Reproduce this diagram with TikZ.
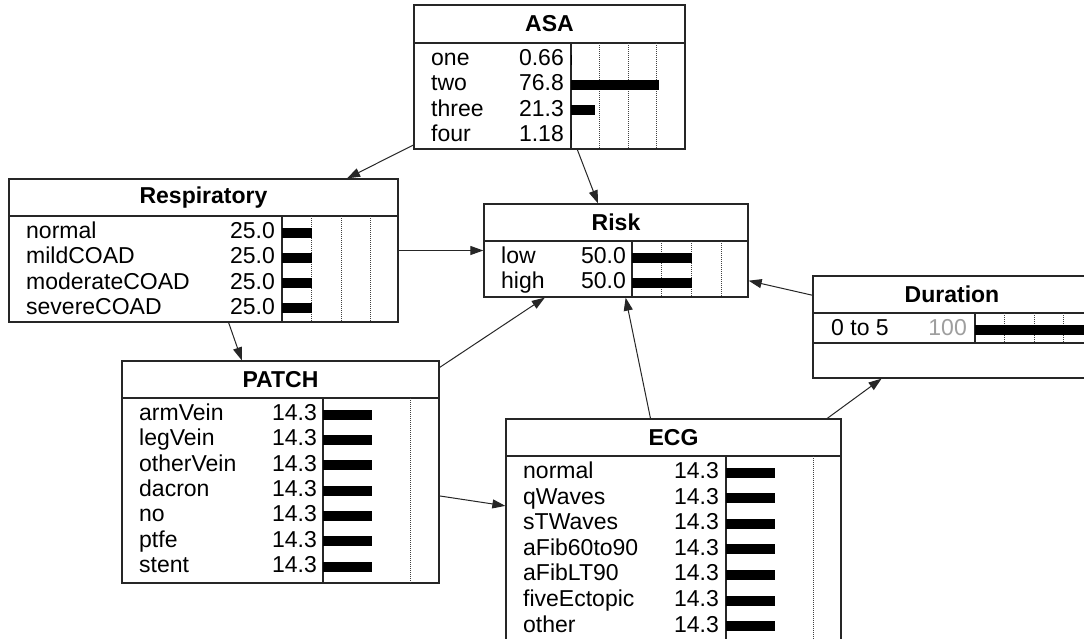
\documentclass[tikz,border=0pt]{standalone}
\usepackage{fontspec}
\setmainfont{Liberation Sans}
\usetikzlibrary{arrows.meta}

\tikzset{
  netbox/.style={draw=black!85, line width=1.3pt, fill=white, inner sep=0pt},
  divline/.style={black!85, line width=1.3pt},
  gridline/.style={black!75, line width=0.8pt, dash pattern=on 1pt off 1pt},
  titletext/.style={font=\fontsize{23}{27}\selectfont\bfseries, inner sep=0pt},
  rowtext/.style={font=\fontsize{23}{27}\selectfont, inner sep=0pt},
  beliefbar/.style={fill=black},
  link/.style={black!85, line width=1pt, -{Triangle[length=13pt,width=9pt]}}
}

\begin{document}
\begin{tikzpicture}[x=1pt, y=-1pt]

    \useasboundingbox (0,0) rectangle (1084,638);
    \fill[white] (0,0) rectangle (1084,638);
    \clip (0,0) rectangle (1084,638);

    % ── ASA ───────────────────────────────────────────────────────────────────
    \node[netbox, minimum width=271pt, minimum height=144pt] (asa) at (549.5,77) {};
    \node[titletext] (asa-t) at (549.5,24) {ASA};
    \draw[divline] (414,43) -- (685,43);
    \draw[divline] (571,43) -- (571,149);
    \foreach \p in {25,50,75}
        \draw[gridline] ({571+1.14*\p},43) -- ({571+1.14*\p},149);
    \foreach \st/\val [count=\i from 0] in {one/0.66, two/76.8, three/21.3, four/1.18} {
        \fill[beliefbar] (571,{54.5+25.3*\i}) rectangle ({571+1.14*\val},{64.5+25.3*\i});
        \node[rowtext, anchor=base west] (asa-s\i) at (431,{65.5+25.3*\i}) {\st};
        \node[rowtext, anchor=base east] (asa-v\i) at (564,{65.5+25.3*\i}) {\val};
    }

    % ── Respiratory ───────────────────────────────────────────────────────────
    \node[netbox, minimum width=389pt, minimum height=143pt] (resp) at (203.5,250.5) {};
    \node[titletext] (resp-t) at (203.5,197.5) {Respiratory};
    \draw[divline] (9,216) -- (398,216);
    \draw[divline] (282,216) -- (282,322);
    \foreach \p in {25,50,75}
        \draw[gridline] ({282+1.18*\p},216) -- ({282+1.18*\p},322);
    \foreach \st/\val [count=\i from 0] in {normal/25.0, mildCOAD/25.0,
                                           moderateCOAD/25.0, severeCOAD/25.0} {
        \fill[beliefbar] (282,{227.5+25.3*\i}) rectangle ({282+1.18*\val},{237.5+25.3*\i});
        \node[rowtext, anchor=base west] (resp-s\i) at (26,{238.5+25.3*\i}) {\st};
        \node[rowtext, anchor=base east] (resp-v\i) at (275,{238.5+25.3*\i}) {\val};
    }

    % ── Risk ──────────────────────────────────────────────────────────────────
    \node[netbox, minimum width=264pt, minimum height=93pt] (risk) at (616,250.5) {};
    \node[titletext] (risk-t) at (616,222.5) {Risk};
    \draw[divline] (484,241) -- (748,241);
    \draw[divline] (632,241) -- (632,297);
    \foreach \p in {25,50,75}
        \draw[gridline] ({632+1.19*\p},241) -- ({632+1.19*\p},297);
    \foreach \st/\val [count=\i from 0] in {low/50.0, high/50.0} {
        \fill[beliefbar] (632,{252.5+25.3*\i}) rectangle ({632+1.19*\val},{262.5+25.3*\i});
        \node[rowtext, anchor=base west] (risk-s\i) at (501,{263.5+25.3*\i}) {\st};
        \node[rowtext, anchor=base east] (risk-v\i) at (626,{263.5+25.3*\i}) {\val};
    }

    % ── Duration (runs past the right edge) ───────────────────────────────────
    \node[netbox, minimum width=278pt, minimum height=102pt] (dur) at (952,327) {};
    \node[titletext] (dur-t) at (952,294.5) {Duration};
    \draw[divline] (813,313) -- (1091,313);
    \draw[divline] (813,343) -- (1091,343);
    \draw[divline] (975,313) -- (975,343);
    \foreach \p in {25,50,75}
        \draw[gridline] ({975+1.18*\p},313) -- ({975+1.18*\p},343);
    \fill[beliefbar] (975,324.5) rectangle ({975+1.18*100},334.5);
    \node[rowtext, anchor=base west] (dur-s0) at (831,335.5) {0 to 5};
    \node[rowtext, anchor=base east, text=black!38] (dur-v0) at (967,335.5) {100};

    % ── PATCH ─────────────────────────────────────────────────────────────────
    \node[netbox, minimum width=317pt, minimum height=222pt] (patch) at (280.5,472) {};
    \node[titletext] (patch-t) at (280.5,379.5) {PATCH};
    \draw[divline] (122,398) -- (439,398);
    \draw[divline] (323,398) -- (323,583);
    \draw[gridline] ({323+3.5*25},398) -- ({323+3.5*25},583);
    \foreach \st/\val [count=\i from 0] in {armVein/14.3, legVein/14.3, otherVein/14.3,
                                           dacron/14.3, no/14.3, ptfe/14.3, stent/14.3} {
        \fill[beliefbar] (323,{409.5+25.35*\i}) rectangle ({323+3.45*\val},{419.5+25.35*\i});
        \node[rowtext, anchor=base west] (patch-s\i) at (139,{420.5+25.35*\i}) {\st};
        \node[rowtext, anchor=base east] (patch-v\i) at (317,{420.5+25.35*\i}) {\val};
    }

    % ── ECG (runs past the bottom edge) ───────────────────────────────────────
    \node[netbox, minimum width=335pt, minimum height=224pt] (ecg) at (673.5,531) {};
    \node[titletext] (ecg-t) at (673.5,437.5) {ECG};
    \draw[divline] (506,456) -- (841,456);
    \draw[divline] (726,456) -- (726,643);
    \draw[gridline] ({726+3.5*25},456) -- ({726+3.5*25},643);
    \foreach \st/\val [count=\i from 0] in {normal/14.3, qWaves/14.3, sTWaves/14.3,
                                           aFib60to90/14.3, aFibLT90/14.3,
                                           fiveEctopic/14.3, other/14.3} {
        \fill[beliefbar] (726,{467.5+25.6*\i}) rectangle ({726+3.4*\val},{477.5+25.6*\i});
        \node[rowtext, anchor=base west] (ecg-s\i) at (523,{478.5+25.6*\i}) {\st};
        \node[rowtext, anchor=base east] (ecg-v\i) at (719,{478.5+25.6*\i}) {\val};
    }

    % ── Links ─────────────────────────────────────────────────────────────────
    \draw[link] (asa) -- (resp);
    \draw[link] (asa) -- (risk);
    \draw[link] (resp) -- (risk);
    \draw[link] (resp) -- (patch);
    \draw[link] (patch) -- (risk);
    \draw[link] (patch) -- (ecg);
    \draw[link] (ecg) -- (risk);
    \draw[link] (ecg) -- (dur);
    \draw[link] (dur) -- (risk);

\end{tikzpicture}
\end{document}
